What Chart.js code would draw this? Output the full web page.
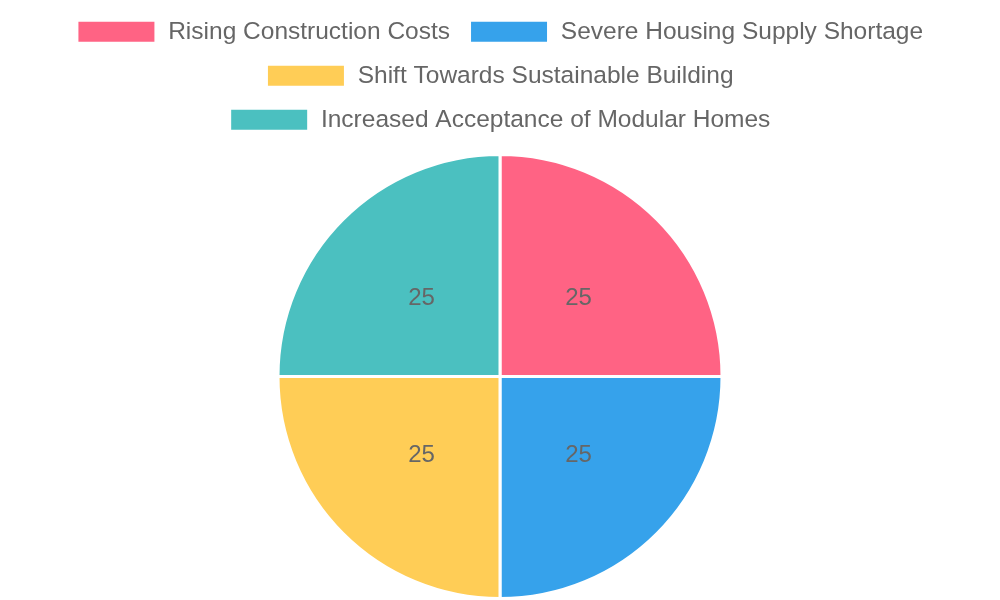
<!DOCTYPE html>
<html>
<head>
<meta charset="utf-8">
<script src="https://cdn.jsdelivr.net/npm/chart.js@4/dist/chart.umd.min.js"></script>
<style>
  html, body { margin: 0; padding: 0; background: #fff; }
  #wrap { width: 1000px; height: 600px; }
</style>
</head>
<body>
<div id="wrap"><canvas id="pie-chart"></canvas></div>
<script>
// data
const categories = [
  'Rising Construction Costs',
  'Severe Housing Supply Shortage',
  'Shift Towards Sustainable Building',
  'Increased Acceptance of Modular Homes'
];
const shares = [25, 25, 25, 25];
const sliceColors = ['#ff6384', '#36a2eb', '#ffcd56', '#4bc0c0'];

// writes the value in the middle of every slice
const sliceLabels = {
  id: 'sliceLabels',
  afterDatasetsDraw(chart) {
    const ctx = chart.ctx;
    const meta = chart.getDatasetMeta(0);
    ctx.save();
    ctx.font = "24px 'Liberation Sans', Arial, sans-serif";
    ctx.fillStyle = '#666';
    ctx.textAlign = 'center';
    ctx.textBaseline = 'middle';
    meta.data.forEach((arc, i) => {
      const p = arc.tooltipPosition();
      ctx.fillText(chart.data.datasets[0].data[i], p.x, p.y);
    });
    ctx.restore();
  }
};

// a bit of room between legend and pie
const legendGap = {
  id: 'legendGap',
  beforeInit(chart) {
    const fit = chart.legend.fit;
    chart.legend.fit = function() {
      fit.bind(chart.legend)();
      this.height += 11;
    };
  }
};

Chart.defaults.font.family = "'Liberation Sans', Arial, sans-serif";
Chart.defaults.color = '#666';

new Chart(document.getElementById('pie-chart'), {
  type: 'pie',
  data: {
    labels: categories,
    datasets: [{
      data: shares,
      backgroundColor: sliceColors,
      borderColor: '#fff',
      borderWidth: 3
    }]
  },
  options: {
    responsive: true,
    maintainAspectRatio: false,
    animation: false,
    plugins: {
      legend: {
        position: 'top',
        labels: {
          font: { size: 24.5 },
          boxWidth: 79,
          boxHeight: 23,
          padding: 19.5
        }
      },
      tooltip: { enabled: false }
    }
  },
  plugins: [sliceLabels, legendGap]
});
</script>
</body>
</html>
